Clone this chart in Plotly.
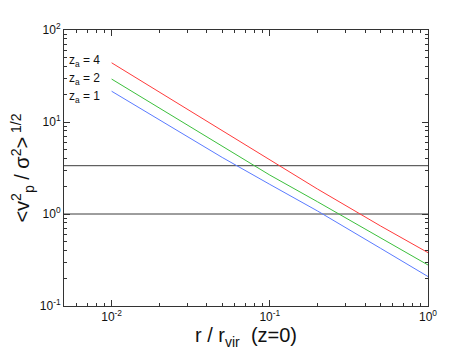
#!/usr/bin/env python

import math
import plotly.graph_objects as go

# radius r / r_vir
r = [0.01, 0.02, 0.05, 0.1, 0.2, 0.5, 0.7, 1.0]

# <v_p^2 / sigma^2>^1/2 for each z_a
v_z4 = [44.0, 21.1, 8.0, 3.83, 1.87, 0.743, 0.537, 0.38]
v_z2 = [29.3, 14.2, 5.4, 2.65, 1.36, 0.553, 0.397, 0.279]
v_z1 = [21.6, 10.6, 4.12, 2.10, 1.08, 0.425, 0.301, 0.209]

# horizontal reference levels
levels = [3.35, 1.0]
x_span = [0.005, 1.0]

labels = ['z<sub>a</sub> = 4', 'z<sub>a</sub> = 2', 'z<sub>a</sub> = 1']
label_y = [45.7, 29.5, 18.5]

fig = go.Figure()

for lv in levels:
	fig.add_trace(go.Scatter(x=x_span, y=[lv, lv], mode='lines',
		line=dict(color='#3c3c3c', width=1), showlegend=False))

for y, c in [(v_z4, '#ff3a3a'), (v_z2, '#3cbf3c'), (v_z1, '#5a7bff')]:
	fig.add_trace(go.Scatter(x=r, y=y, mode='lines',
		line=dict(color=c, width=1), showlegend=False))

for lab, y in zip(labels, label_y):
	fig.add_annotation(x=-2.06, y=math.log10(y), text=lab, showarrow=False,
		xref='x', yref='y', xanchor='right', yanchor='middle',
		font=dict(size=12, color='#111'))

def minor_vals(lo, hi):
	return [m * 10 ** e for e in range(lo, hi) for m in range(2, 10)]

axis_common = dict(
	type='log', showline=True, linecolor='#333', linewidth=1, mirror='ticks',
	ticks='inside', ticklen=6, tickwidth=1, tickcolor='#333',
	showgrid=False, zeroline=False, automargin=False,
	tickfont=dict(size=12, color='#111'),
)

fig.update_xaxes(axis_common, range=[-2.301, 0],
	tickvals=[0.01, 0.1, 1], ticktext=['10<sup>-2</sup>', '10<sup>-1</sup>', '10<sup>0</sup>'],
	minor=dict(ticks='inside', ticklen=3, tickcolor='#333', tickvals=minor_vals(-3, 0), showgrid=False),
	title=dict(text='r / r<sub>vir</sub>  (z=0)', font=dict(size=20, color='#111'), standoff=4))
fig.update_yaxes(axis_common, range=[-1, 2],
	tickvals=[0.1, 1, 10, 100], ticktext=['10<sup>-1</sup>', '10<sup>0</sup>', '10<sup>1</sup>', '10<sup>2</sup>'],
	minor=dict(ticks='inside', ticklen=3, tickcolor='#333', tickvals=minor_vals(-1, 2), showgrid=False),
	title=dict(text='<v<sup>2</sup><sub>p</sub> / σ<sup>2</sup>><sup> 1/2</sup>', font=dict(size=20, color='#111'), standoff=6))

fig.update_layout(
	width=474, height=356,
	margin=dict(l=56, r=54, t=22, b=58),
	paper_bgcolor='white', plot_bgcolor='white',
	font=dict(family='Liberation Sans, Arial, sans-serif'),
)

fig.write_html('out.html')
